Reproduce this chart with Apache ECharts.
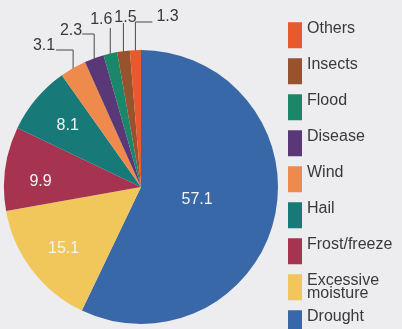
<!DOCTYPE html>
<html>
<head>
<meta charset="utf-8">
<script src="https://cdn.jsdelivr.net/npm/echarts@6/dist/echarts.min.js"></script>
<style>
  html, body { margin: 0; padding: 0; background: #edecef; }
  #chart { width: 402px; height: 329px; }
</style>
</head>
<body>
<div id="chart"></div>
<script>
// crop losses by cause, percent of total
var causes = ['Drought', 'Excessive moisture', 'Frost/freeze', 'Hail', 'Wind', 'Disease', 'Flood', 'Insects', 'Others'];
var shares = [57.1, 15.1, 9.9, 8.1, 3.1, 2.3, 1.6, 1.5, 1.3];
var legendOrder = ['Others', 'Insects', 'Flood', 'Disease', 'Wind', 'Hail', 'Frost/freeze', 'Excessive moisture', 'Drought'];

var colors = {
  'Drought': '#3868a8',
  'Excessive moisture': '#f1c75b',
  'Frost/freeze': '#a6334f',
  'Hail': '#177a78',
  'Wind': '#ee8a4c',
  'Disease': '#5a3877',
  'Flood': '#1a876a',
  'Insects': '#97532d',
  'Others': '#e8592b'
}

var cx = 141, cy = 187, radius = 137
var font = '"Liberation Sans", Arial, sans-serif'

// big slices: number sits inside, this far out along the radius (+ small nudge)
var inside = {
  'Drought': { reach: 0.42, dy: 0 },
  'Excessive moisture': { reach: 0.71, dy: 3 },
  'Frost/freeze': { reach: 0.74, dy: 8 },
  'Hail': { reach: 0.7, dy: 0 }
}
// thin slices: leader goes straight up to y, then runs sideways
var leader = {
  'Wind': { y: 50, run: -17, align: 'right', dx: -1, dy: -4 },
  'Disease': { y: 34, run: -12, align: 'right', dx: 0, dy: -3 },
  'Flood': { y: 28, run: 0, align: 'center', dx: -9, dy: -8 },
  'Insects': { y: 23, run: 0, align: 'center', dx: 2, dy: -5 },
  'Others': { y: 22, run: 17, align: 'left', dx: 4, dy: -5 }
}

var pieData = causes.map(function (name, i) {
  var isIn = inside[name] !== undefined
  return {
    name: name,
    value: shares[i],
    itemStyle: { color: colors[name] },
    label: isIn
      ? { position: 'inside', color: '#f4f3f5', fontSize: 16 }
      : { position: 'outside', color: '#3a383c', fontSize: 16 },
    labelLine: { show: !isIn }
  }
})

var chart = echarts.init(document.getElementById('chart'))
chart.setOption({
  animation: false,
  backgroundColor: '#edecef',
  legend: {
    orient: 'vertical',
    left: 288,
    top: 21,
    height: 400,
    padding: 0,
    itemWidth: 14,
    itemHeight: 26,
    itemGap: 7.5,
    icon: 'rect',
    selectedMode: false,
    data: legendOrder,
    // names sit at the top of the tall swatch: an empty second line lifts them
    formatter: function (name) {
      if (name === 'Excessive moisture') return 'Excessive\nmoisture'
      return name + '\n'
    },
    textStyle: {
      fontFamily: font,
      fontSize: 16,
      color: '#3a383c',
      lineHeight: 12.5
    }
  },
  series: [{
    type: 'pie',
    center: [cx, cy],
    radius: radius,
    startAngle: 90,
    clockwise: true,
    avoidLabelOverlap: false,
    data: pieData,
    label: {
      formatter: '{c}',
      fontFamily: font
    },
    labelLine: {
      lineStyle: { color: '#4a484c', width: 1 }
    },
    labelLayout: function (p) {
      var name = causes[p.dataIndex]
      var r = p.labelRect
      var lx = r.x + r.width / 2
      var ly = r.y + r.height / 2
      var s = inside[name]
      if (s) {
        var d = Math.sqrt((lx - cx) * (lx - cx) + (ly - cy) * (ly - cy))
        var k = s.reach * radius / d
        return {
          x: cx + (lx - cx) * k,
          y: cy + (ly - cy) * k + s.dy,
          align: 'center',
          verticalAlign: 'middle'
        }
      }
      var l = leader[name]
      var pts = p.labelLinePoints
      var x1 = pts[0][0]
      var y1 = pts[0][1]
      var ex = x1 + l.run
      return {
        x: ex + l.dx,
        y: l.y + l.dy,
        align: l.align,
        verticalAlign: 'middle',
        labelLinePoints: [[x1, y1 + 4], [x1, l.y], [ex, l.y]]
      }
    }
  }]
})
</script>
</body>
</html>
